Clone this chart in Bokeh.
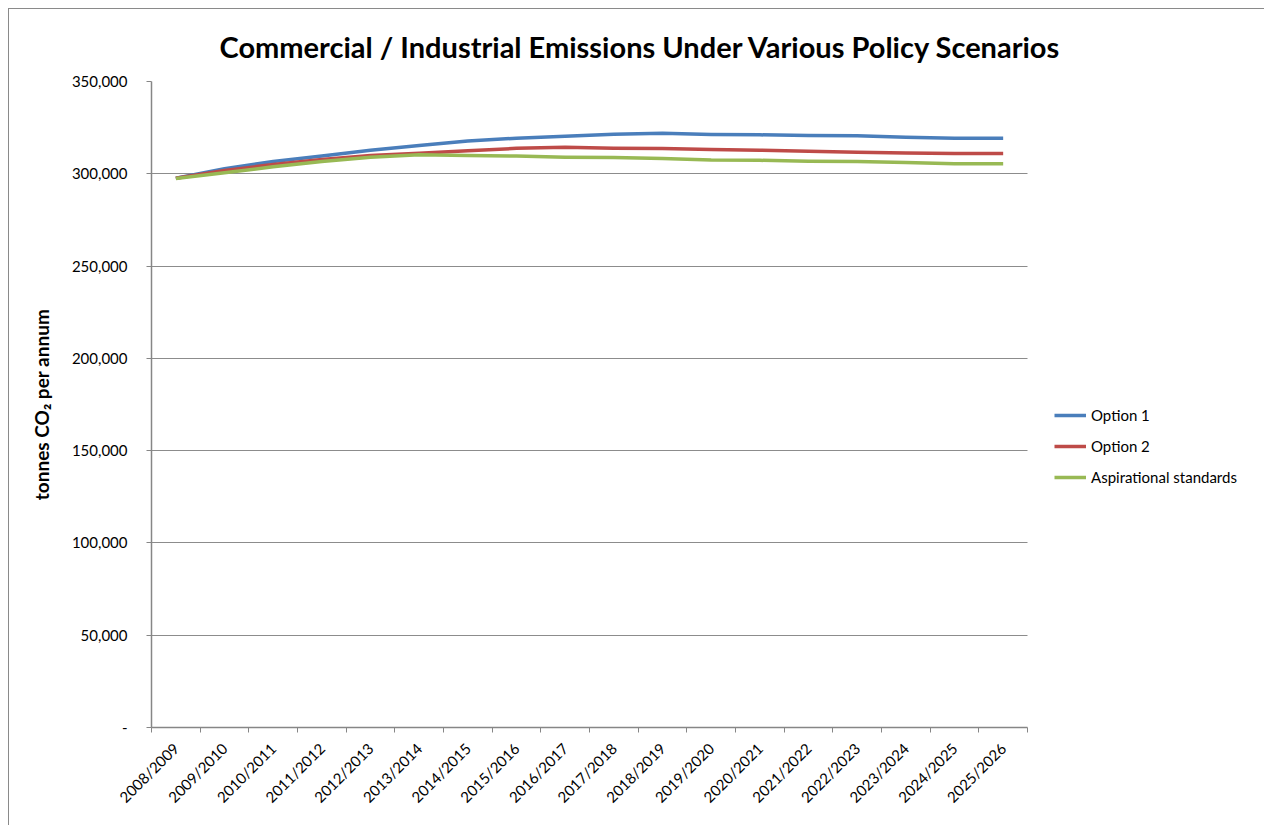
from bokeh.plotting import figure
from bokeh.models import (Range1d, FixedTicker, Legend, LegendItem, Title, Grid)
from bokeh.embed import file_html
from bokeh.resources import INLINE

# Financial years on the category axis
periods = ["2008/2009", "2009/2010", "2010/2011", "2011/2012", "2012/2013",
           "2013/2014", "2014/2015", "2015/2016", "2016/2017", "2017/2018",
           "2018/2019", "2019/2020", "2020/2021", "2021/2022", "2022/2023",
           "2023/2024", "2024/2025", "2025/2026"]

# Emissions, tonnes CO2 per annum
option_1 = [297600, 302800, 306700, 309600, 312700, 315300, 317800, 319300, 320300,
            321400, 322000, 321300, 321100, 320700, 320600, 319800, 319300, 319300]
option_2 = [297600, 301800, 305000, 307700, 309900, 311100, 312500, 313800, 314400,
            313800, 313700, 313200, 312800, 312200, 311700, 311300, 311000, 311000]
aspirational = [297400, 300500, 303800, 306700, 308900, 310300, 309900, 309600, 309000,
                308800, 308300, 307500, 307300, 306800, 306600, 306100, 305400, 305400]

y_ticks = [0, 50000, 100000, 150000, 200000, 250000, 300000, 350000]
y_tick_labels = ["-", "50,000", "100,000", "150,000", "200,000", "250,000",
                 "300,000", "350,000"]

series_names = ["Option 1", "Option 2", "Aspirational standards"]
series_colors = ["#4A7EBB", "#BE4B48", "#98B954"]

FONT = "Lato"
AXIS_GREY = "#868686"
GRID_GREY = "#8c8c8c"

n = len(periods)
xs = [i + 0.5 for i in range(n)]

# Page geometry (px): the plotted area runs PLOT_W px from the left border, the
# frame itself continues to the right edge so the legend can sit beside it.
FIG_W, FIG_H = 1256, 817
LEFT_PAD, TOP_PAD, BOTTOM_PAD = 142, 72, 99
PLOT_W = 876
FRAME_W = FIG_W - LEFT_PAD
x_end = n * FRAME_W / PLOT_W

p = figure(width=FIG_W, height=FIG_H, output_backend="svg", toolbar_location=None,
           x_range=Range1d(0, x_end), y_range=Range1d(0, 350000),
           min_border_left=LEFT_PAD, min_border_right=0,
           min_border_top=TOP_PAD, min_border_bottom=BOTTOM_PAD,
           title=None)
p.margin = (8, 0, 0, 8)
p.styles = {"border-left": "1px solid #8a8a8a", "border-top": "1px solid #8a8a8a"}
p.outline_line_color = None
p.background_fill_color = "white"
p.border_fill_color = "white"

title = Title(text="Commercial / Industrial Emissions Under Various Policy Scenarios",
              align="left", offset=68, text_font=FONT, text_font_size="29px",
              text_font_style="bold", text_color="black", standoff=35)
p.add_layout(title, "above")

# x axis: labels at category centres, tick marks at category boundaries
xa = p.xaxis[0]
xa.bounds = (0, n)
xa.ticker = FixedTicker(ticks=xs, minor_ticks=list(range(n + 1)))
xa.major_label_overrides = {x: lab for x, lab in zip(xs, periods)}
xa.major_label_orientation = 0.7854
xa.major_tick_out = 0
xa.major_tick_in = 0
xa.minor_tick_out = 5
xa.minor_tick_in = 0
xa.minor_tick_line_color = AXIS_GREY
xa.axis_line_color = AXIS_GREY
xa.axis_line_width = 1.5
xa.major_label_text_font = FONT
xa.major_label_text_font_size = "15px"
xa.major_label_text_color = "black"
xa.major_label_standoff = 13

ya = p.yaxis[0]
ya.ticker = FixedTicker(ticks=y_ticks, minor_ticks=[])
ya.major_label_overrides = {t: lab for t, lab in zip(y_ticks, y_tick_labels)}
ya.major_tick_out = 5
ya.major_tick_in = 0
ya.major_tick_line_color = AXIS_GREY
ya.axis_line_color = AXIS_GREY
ya.axis_line_width = 1.5
ya.major_label_text_font = FONT
ya.major_label_text_font_size = "15px"
ya.major_label_text_color = "black"
ya.major_label_standoff = 19
ya.axis_label = "tonnes CO\u2082 per annum"
ya.axis_label_text_font = FONT
ya.axis_label_text_font_size = "19px"
ya.axis_label_text_font_style = "bold"
ya.axis_label_text_color = "black"
ya.axis_label_standoff = 16

p.xgrid.grid_line_color = None
# horizontal gridlines only across the plotted categories
if "cross_bounds" in Grid.properties():
    p.ygrid.grid_line_color = GRID_GREY
    p.ygrid.grid_line_width = 1
    p.ygrid.cross_bounds = (0, n)
else:
    p.ygrid.grid_line_color = None
    p.segment(x0=0, x1=n, y0=y_ticks[1:], y1=y_ticks[1:],
              line_color=GRID_GREY, line_width=1, level="underlay")

renderers = []
for vals, color in zip([option_1, option_2, aspirational], series_colors):
    r = p.line(xs, vals, line_color=color, line_width=3.5, line_join="round",
               line_cap="butt")
    renderers.append(r)

legend = Legend(items=[LegendItem(label=nm, renderers=[r])
                       for nm, r in zip(series_names, renderers)],
                location=(903, 238), orientation="vertical",
                label_text_font=FONT, label_text_font_size="15px",
                label_text_color="black", glyph_width=32, glyph_height=20,
                label_height=24, spacing=7, padding=0, margin=0,
                border_line_color=None, background_fill_alpha=0,
                label_standoff=5)
p.add_layout(legend, "center")

open("out.html", "w").write(file_html(p, INLINE))
